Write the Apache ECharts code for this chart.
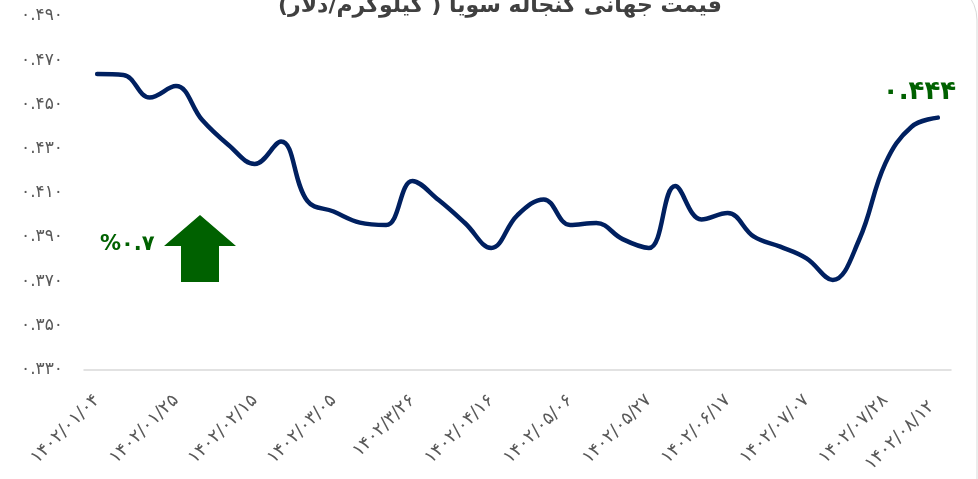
<!DOCTYPE html>
<html>
<head>
<meta charset="utf-8">
<script src="https://cdn.jsdelivr.net/npm/echarts@6/dist/echarts.min.js"></script>
<style>
html,body{margin:0;padding:0;background:#fff;}
#chart{width:978px;height:479px;}
</style>
</head>
<body>
<div id="chart"></div>
<script>
// ---- data ----
const categories = [
  "۱۴۰۲/۰۱/۰۴","۱۴۰۲/۰۱/۱۱","۱۴۰۲/۰۱/۱۸","۱۴۰۲/۰۱/۲۵","۱۴۰۲/۰۲/۰۱","۱۴۰۲/۰۲/۰۸",
  "۱۴۰۲/۰۲/۱۵","۱۴۰۲/۰۲/۲۲","۱۴۰۲/۰۲/۲۹","۱۴۰۲/۰۳/۰۵","۱۴۰۲/۰۳/۱۲","۱۴۰۲/۰۳/۱۹",
  "۱۴۰۲/۳/۲۶","۱۴۰۲/۰۴/۰۲","۱۴۰۲/۰۴/۰۹","۱۴۰۲/۰۴/۱۶","۱۴۰۲/۰۴/۲۳","۱۴۰۲/۰۴/۳۰",
  "۱۴۰۲/۰۵/۰۶","۱۴۰۲/۰۵/۱۳","۱۴۰۲/۰۵/۲۰","۱۴۰۲/۰۵/۲۷","۱۴۰۲/۰۶/۰۳","۱۴۰۲/۰۶/۱۰",
  "۱۴۰۲/۰۶/۱۷","۱۴۰۲/۰۶/۲۴","۱۴۰۲/۰۶/۳۱","۱۴۰۲/۰۷/۰۷","۱۴۰۲/۰۷/۱۴","۱۴۰۲/۰۷/۲۱",
  "۱۴۰۲/۰۷/۲۸","۱۴۰۲/۰۸/۰۵","۱۴۰۲/۰۸/۱۲"
];
const prices = [
  0.4637, 0.4633, 0.4531, 0.4583, 0.4429, 0.4316, 0.4230, 0.4332, 0.4063, 0.4015, 0.3965,
  0.3954, 0.4153, 0.4067, 0.3963, 0.3850, 0.3999, 0.4070, 0.3954, 0.3963, 0.3890, 0.3850,
  0.4130, 0.3979, 0.4008, 0.3901, 0.3856, 0.3803, 0.3705, 0.3886, 0.4233, 0.4399, 0.4440
];
const labelIndices = [0, 3, 6, 9, 12, 15, 18, 21, 24, 27, 30, 32];
const yMin = 0.33, yMax = 0.49, yStep = 0.02;
const titleText = "قیمت جهانی کنجاله سویا ( کیلوگرم/دلار)";
const changeText = "%۰.۷";

const faDigits = "۰۱۲۳۴۵۶۷۸۹";
function toFa(s){ return String(s).replace(/[0-9]/g, d => faDigits[+d]); }

const green = "#006100";
const lastIdx = categories.length - 1;
const xData = categories.map((c, i) =>
  i === lastIdx ? {value: c, textStyle: {padding: [20, 9, 0, 0]}} : c
);

const chart = echarts.init(document.getElementById('chart'), null, {renderer: 'canvas'});
chart.setOption({
  animation: false,
  backgroundColor: '#ffffff',
  title: {
    text: titleText + "\u200F",
    left: 273,
    top: -10,
    textStyle: {fontFamily: 'DejaVu Sans', fontWeight: 'bold', fontSize: 22, color: '#404040'}
  },
  grid: {left: 84, right: 27, top: 16, bottom: 109.5, containLabel: false},
  xAxis: {
    type: 'category',
    data: xData,
    boundaryGap: true,
    axisLine: {show: true, lineStyle: {color: '#d9d9d9', width: 1.5}},
    axisTick: {show: false},
    axisLabel: {
      interval: (idx) => labelIndices.indexOf(idx) >= 0,
      rotate: 45,
      margin: 28,
      color: '#595959',
      fontSize: 18,
      fontFamily: 'DejaVu Sans'
    },
    splitLine: {show: false}
  },
  yAxis: {
    type: 'value',
    min: yMin, max: yMax, interval: yStep,
    axisLine: {show: false},
    axisTick: {show: false},
    splitLine: {show: false},
    axisLabel: {
      margin: 21,
      color: '#595959',
      fontSize: 17,
      fontFamily: 'DejaVu Sans',
      formatter: v => toFa(v.toFixed(3))
    }
  },
  series: [{
    type: 'line',
    data: prices,
    smooth: 0.4,
    showSymbol: false,
    symbol: 'none',
    lineStyle: {color: '#002060', width: 4.5, cap: 'round'},
    itemStyle: {color: '#002060'},
    endLabel: {
      show: true,
      offset: [-63, -25],
      formatter: p => toFa(Number(p.value).toFixed(3)),
      color: green, fontWeight: 'bold', fontSize: 26, fontFamily: 'DejaVu Sans'
    },
    z: 3
  }],
  graphic: [
    {
      type: 'rect', silent: true, z: -1,
      shape: {x: -20, y: -20, width: 997, height: 600, r: 40},
      style: {fill: 'none', stroke: '#d9d9d9', lineWidth: 1}
    },
    {
      type: 'polygon', silent: true,
      shape: {points: [[200,215],[236,246],[219,246],[219,282],[181,282],[181,246],[164,246]]},
      style: {fill: green}
    },
    {
      type: 'text', silent: true,
      style: {
        text: changeText, x: 100, y: 245, verticalAlign: 'middle', align: 'left',
        fill: green, font: 'bold 21px "DejaVu Sans"'
      }
    }
  ]
});
</script>
</body>
</html>
